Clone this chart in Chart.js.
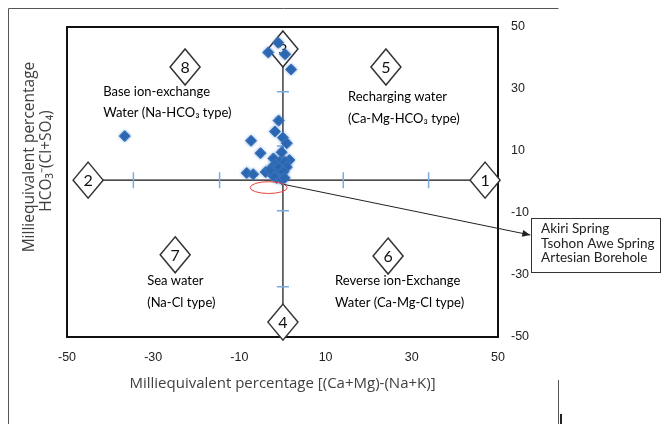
<!DOCTYPE html>
<html><head><meta charset="utf-8">
<script src="https://cdn.jsdelivr.net/npm/chart.js@4"></script>
<style>html,body{margin:0;padding:0;background:#fff;}#wrap{width:662px;height:424px;}</style>
</head><body><div id="wrap"><canvas id="c" width="662" height="424"></canvas></div>
<script>
// ---- data ----
const xTicks = [-50, -30, -10, 10, 30, 50];
const yTicks = [50, 30, 10, -10, -30, -50];
const sampleX = [-3.3, -1.0, 0.6, 2.0, -36.6, -0.9, -1.75, -7.3, 0.1, 1.0, -5.1, -0.2, 1.6, -2.1, -0.6, 0.6, -1.75, -8.3, -6.8, -3.9, -2.5, -1.0, 1.0, -1.75, -0.6, 0.2, -1.35, -0.2, -2.1, -2.9, 0.5];
const sampleY = [41.8, 44.9, 41.2, 36.3, 14.8, 19.8, 16.3, 13.3, 14.3, 12.5, 9.3, 9.6, 7.1, 7.6, 6.5, 6.5, 5.5, 2.9, 2.5, 3.2, 4.6, 4.6, 4.8, 2.8, 2.3, 3.3, 1.3, 0.9, 1.9, 3.8, 1.3];
const quadrantNumbers = ['1', '2', '3', '4', '5', '6', '7', '8'];
const quadrantNumX = [47.0, -45.1, 0.1, 0.1, 24.0, 24.5, -24.9, -22.6];
const quadrantNumY = [0.6, 0.6, 42.9, -45.2, 37.1, -23.9, -23.5, 37.1];
const quadrantText = [
  ['Base ion-exchange', 'Water (Na-HCO\u2083 type)'],
  ['Recharging water', '(Ca-Mg-HCO\u2083 type)'],
  ['Sea water', '(Na-Cl type)'],
  ['Reverse ion-Exchange', 'Water (Ca-Mg-Cl type)']
];
const quadrantTextX = [-41.6, 15.2, -31.4, 12.2];
const quadrantTextY = [29.1, 27.4, -31.9, -31.9];
const crossX = 0.1, crossY = 0.6;
const hTickMarks = [-34.6, -14.6, 14.1, 33.9];
const vTickMarks = [29.1, 11.6, -9.3, -33.8];
const calloutLines = ['Akiri Spring', 'Tsohon Awe Spring', 'Artesian Borehole'];
const xTitle = 'Milliequivalent percentage [(Ca+Mg)-(Na+K)]';
const yTitle = ['Milliequivalent percentage', 'HCO\u2083\u207B(Cl+SO\u2084)'];

const decor = {
  id: 'decor',
  beforeDatasetsDraw(chart) {
    const {ctx, chartArea: a, scales: {x, y}} = chart;
    const px = v => x.getPixelForValue(v), py = v => y.getPixelForValue(v);
    ctx.save();
    // outer frame (page box)
    ctx.strokeStyle = '#555'; ctx.lineWidth = 1;
    ctx.beginPath();
    ctx.moveTo(8.5, 430); ctx.lineTo(8.5, 8.5); ctx.lineTo(558.5, 8.5);
    ctx.moveTo(558.5, 380); ctx.lineTo(558.5, 430);
    ctx.stroke();
    ctx.lineWidth = 2; ctx.strokeStyle = '#222';
    ctx.beginPath(); ctx.moveTo(561, 414); ctx.lineTo(561, 430); ctx.stroke();
    // plot frame
    ctx.strokeStyle = '#111'; ctx.lineWidth = 2;
    ctx.strokeRect(a.left, a.top, a.right - a.left, a.bottom - a.top);
    // cross lines
    ctx.lineWidth = 1.2; ctx.strokeStyle = '#111';
    ctx.beginPath();
    ctx.moveTo(px(quadrantNumX[1]), py(crossY)); ctx.lineTo(px(quadrantNumX[0]), py(crossY));
    ctx.moveTo(px(crossX), py(quadrantNumY[2])); ctx.lineTo(px(crossX), a.bottom);
    ctx.stroke();
    // blue tick marks
    ctx.strokeStyle = '#7AAAE0'; ctx.lineWidth = 1.5;
    ctx.beginPath();
    hTickMarks.forEach(v => { ctx.moveTo(px(v), py(crossY) - 8); ctx.lineTo(px(v), py(crossY) + 8); });
    vTickMarks.forEach(v => { ctx.moveTo(px(crossX) - 6, py(v)); ctx.lineTo(px(crossX) + 6, py(v)); });
    ctx.stroke();
    // diamonds
    ctx.font = '16px Lato, "Liberation Sans", sans-serif';
    ctx.textAlign = 'center'; ctx.textBaseline = 'middle';
    quadrantNumbers.forEach((n, i) => {
      const cx = px(quadrantNumX[i]), cy = py(quadrantNumY[i]);
      const hw = 15, hh = 18;
      ctx.beginPath();
      ctx.moveTo(cx, cy - hh); ctx.lineTo(cx + hw, cy); ctx.lineTo(cx, cy + hh); ctx.lineTo(cx - hw, cy); ctx.closePath();
      ctx.fillStyle = '#fff'; ctx.fill();
      ctx.strokeStyle = '#333'; ctx.lineWidth = 1.5; ctx.stroke();
      ctx.fillStyle = '#111'; ctx.fillText(n, cx, cy + 1);
    });
    // quadrant texts
    ctx.font = '13px Lato, "Liberation Sans", sans-serif';
    ctx.textAlign = 'left'; ctx.fillStyle = '#000';
    quadrantText.forEach((lines, i) => {
      lines.forEach((t, j) => ctx.fillText(t, px(quadrantTextX[i]), py(quadrantTextY[i]) + j * 21.5));
    });
    // axis titles
    ctx.fillStyle = '#404040';
    ctx.font = '15px "Open Sans", sans-serif';
    ctx.textAlign = 'center';
    ctx.fillText(xTitle, (a.left + a.right) / 2, a.bottom + 47);
    ctx.translate(a.left - 37, 157);
    ctx.rotate(-Math.PI / 2);
    ctx.font = '15.5px "Open Sans", sans-serif';
    ctx.fillText(yTitle[0], 0, 0);
    ctx.fillText(yTitle[1], -4, 17);
    ctx.restore();
  },
  afterDatasetsDraw(chart) {
    const {ctx, scales: {x, y}} = chart;
    const px = v => x.getPixelForValue(v), py = v => y.getPixelForValue(v);
    ctx.save();
    // red ellipse
    const ex = px(-3.2), ey = py(-1.8);
    ctx.strokeStyle = '#E8403A'; ctx.lineWidth = 1;
    ctx.beginPath();
    ctx.ellipse(ex, ey, px(1.1) - px(-3.2), py(-3.7) - py(-1.8), 0, 0, Math.PI * 2);
    ctx.stroke();
    // callout box
    const bx0 = px(57.7), bx1 = px(87.6), by0 = py(-11.6), by1 = py(-29.0);
    ctx.fillStyle = '#fff'; ctx.fillRect(bx0, by0, bx1 - bx0, by1 - by0);
    ctx.strokeStyle = '#333'; ctx.lineWidth = 1;
    ctx.strokeRect(Math.round(bx0) + 0.5, Math.round(by0) + 0.5, Math.round(bx1 - bx0), Math.round(by1 - by0));
    ctx.fillStyle = '#222'; ctx.font = '13.5px Lato, "Liberation Sans", sans-serif';
    ctx.textAlign = 'left'; ctx.textBaseline = 'middle';
    calloutLines.forEach((t, j) => ctx.fillText(t, px(60.0), py(-15.1) + j * 14.5));
    // arrow
    const ax0 = px(0.4), ay0 = py(-0.8), ax1 = px(57.5), ay1 = py(-17.1);
    ctx.strokeStyle = '#222'; ctx.lineWidth = 1;
    ctx.beginPath(); ctx.moveTo(ax0, ay0); ctx.lineTo(ax1, ay1); ctx.stroke();
    const ang = Math.atan2(ay1 - ay0, ax1 - ax0);
    ctx.fillStyle = '#222';
    ctx.beginPath();
    ctx.moveTo(ax1, ay1);
    ctx.lineTo(ax1 - 8 * Math.cos(ang) + 3.5 * Math.sin(ang), ay1 - 8 * Math.sin(ang) - 3.5 * Math.cos(ang));
    ctx.lineTo(ax1 - 8 * Math.cos(ang) - 3.5 * Math.sin(ang), ay1 - 8 * Math.sin(ang) + 3.5 * Math.cos(ang));
    ctx.closePath(); ctx.fill();
    ctx.restore();
  }
};

const glow = {
  id: 'glow',
  beforeDatasetDraw(chart) { chart.ctx.save(); chart.ctx.shadowColor = 'rgba(60,120,200,0.6)'; chart.ctx.shadowBlur = 3; },
  afterDatasetDraw(chart) { chart.ctx.restore(); }
};

new Chart(document.getElementById('c'), {
  type: 'scatter',
  data: {
    datasets: [{
      data: sampleX.map((v, i) => ({x: v, y: sampleY[i]})),
      pointStyle: 'rectRot',
      pointRadius: 5.5,
      pointBackgroundColor: '#2C66B0',
      pointBorderColor: '#3A74BC',
      pointBorderWidth: 1
    }]
  },
  options: {
    responsive: false,
    devicePixelRatio: 1,
    animation: false,
    layout: {padding: {left: 67, top: 27, right: 0, bottom: 0}},
    plugins: {legend: {display: false}, tooltip: {enabled: false}},
    scales: {
      x: {
        type: 'linear', min: -50, max: 50, position: 'bottom',
        afterBuildTicks: s => { s.ticks = xTicks.map(v => ({value: v})); },
        afterFit: s => { s.height = 87; },
        grid: {display: false, drawTicks: false},
        border: {display: false},
        ticks: {padding: 13, color: '#222', font: {family: '"Liberation Sans Narrow", "Liberation Sans", sans-serif', size: 12.5}, maxRotation: 0}
      },
      y: {
        type: 'linear', min: -50, max: 50, position: 'right',
        afterBuildTicks: s => { s.ticks = yTicks.map(v => ({value: v})); },
        afterFit: s => { s.width = 164; },
        grid: {display: false, drawTicks: false},
        border: {display: false},
        ticks: {padding: 13, color: '#222', font: {family: '"Liberation Sans Narrow", "Liberation Sans", sans-serif', size: 12.5}}
      }
    }
  },
  plugins: [decor, glow]
});
</script></body></html>
